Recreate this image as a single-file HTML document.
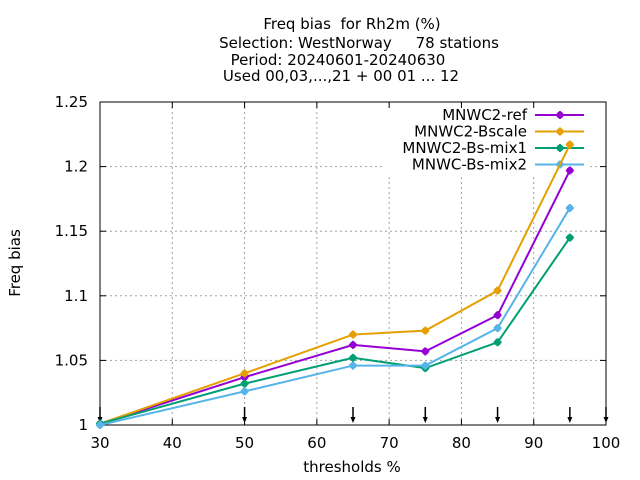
<!DOCTYPE html>
<html><head><meta charset="utf-8"><style>
body{margin:0;background:#fff;}
svg{display:block;font-family:"DejaVu Sans","Liberation Sans",sans-serif;}
text{white-space:pre;}
</style></head><body>
<svg id="c" width="640" height="480">
<g font-size="15" text-anchor="middle" fill="#000">
<text x="352" y="29" xml:space="preserve">Freq bias  for Rh2m (%)</text>
<text x="359" y="48" xml:space="preserve">Selection: WestNorway     78 stations</text>
<text x="338" y="65">Period: 20240601-20240630</text>
<text x="341" y="81">Used 00,03,...,21 + 00 01 ... 12</text>
</g>
<text x="20" y="263" font-size="15" text-anchor="middle" transform="rotate(-90 20 263)">Freq bias</text>
<text x="352" y="472" font-size="15" text-anchor="middle">thresholds %</text>
<g id="grid"></g><g id="legbg"></g><g id="axes"></g><g id="legend"></g><g id="series"></g>
</svg>
<script>
const xThresholds=[30,50,65,75,85,95];
const seriesNames=["MNWC2-ref","MNWC2-Bscale","MNWC2-Bs-mix1","MNWC-Bs-mix2"];
const refVals=[1.001,1.037,1.062,1.057,1.085,1.197];
const bscaleVals=[1.001,1.040,1.070,1.073,1.104,1.217];
const mix1Vals=[1.001,1.032,1.052,1.044,1.064,1.145];
const mix2Vals=[1.000,1.026,1.046,1.046,1.075,1.168];
const xTicks=[30,40,50,60,70,80,90,100];
const yTicks=[1,1.05,1.1,1.15,1.2,1.25];
const yTickLabels=["1","1.05","1.1","1.15","1.2","1.25"];
const colors=["#9400d3","#e69f00","#009e73","#56b4e9"];
const allVals=[refVals,bscaleVals,mix1Vals,mix2Vals];
const L=100,R=606,T=102,B=425;
const X=v=>L+(v-30)/70*(R-L);
const Y=v=>B-(v-1)/0.25*(B-T);
const NS="http://www.w3.org/2000/svg";
function mk(p,t,a){const e=document.createElementNS(NS,t);for(const k in a)e.setAttribute(k,a[k]);p.appendChild(e);return e;}
const grid=document.getElementById('grid'),axes=document.getElementById('axes'),ser=document.getElementById('series'),leg=document.getElementById('legend'),legbg=document.getElementById('legbg');
xTicks.forEach(v=>{
 if(v>30&&v<100){const g=mk(grid,'line',{x1:X(v),x2:X(v),y1:T,y2:B,stroke:'#a0a0a0','stroke-dasharray':'2,3','stroke-width':1});
 
 }
 mk(axes,'line',{x1:X(v),x2:X(v),y1:B,y2:B-6,stroke:'#000'});mk(axes,'line',{x1:X(v),x2:X(v),y1:T,y2:T+6,stroke:'#000'});
 const t=mk(axes,'text',{x:X(v),y:B+23,'font-size':15,'text-anchor':'middle'});t.textContent=v;
 
 
});
yTicks.forEach((v,i)=>{
 if(i>0&&i<yTicks.length-1){const g=mk(grid,'line',{x1:L,x2:R,y1:Y(v),y2:Y(v),stroke:'#a0a0a0','stroke-dasharray':'2,3','stroke-width':1});
 
 }
 mk(axes,'line',{x1:L,x2:L+6,y1:Y(v),y2:Y(v),stroke:'#000'});mk(axes,'line',{x1:R,x2:R-6,y1:Y(v),y2:Y(v),stroke:'#000'});
 const t=mk(axes,'text',{x:L-12,y:Y(v)+5,'font-size':15,'text-anchor':'end'});t.textContent=yTickLabels[i];
 
 
});
const fr=mk(axes,'rect',{x:L,y:T,width:R-L,height:B-T,fill:'none',stroke:'#000'});


xThresholds.concat([100]).forEach(v=>{
 const a=mk(axes,'g',{});
 
 
 mk(a,'line',{x1:X(v),x2:X(v),y1:B-18,y2:B-4,stroke:'#000','stroke-width':1.5});
 mk(a,'path',{d:`M${X(v)-2.5},${B-8} L${X(v)+2.5},${B-8} L${X(v)},${B-2} Z`,fill:'#000'});
});
const lb=mk(legbg,'rect',{x:382,y:104,width:206,height:70,fill:'#fff'});


function marker(p,x,y,c){mk(p,'circle',{cx:x,cy:y,r:3.5,fill:c});mk(p,'path',{d:`M${x-4},${y} h8 M${x},${y-4} v8`,stroke:c,'stroke-width':2});}
allVals.forEach((vals,s)=>{
 const g=mk(ser,'g',{});
 
 
 mk(g,'polyline',{points:vals.map((v,i)=>X(xThresholds[i])+','+Y(v)).join(' '),fill:'none',stroke:colors[s],'stroke-width':2});
 vals.forEach((v,i)=>marker(g,X(xThresholds[i]),Y(v),colors[s]));
 const ly=115+s*16.5;
 const e=mk(leg,'g',{});
 
 
 const t=mk(e,'text',{x:527,y:ly+5,'font-size':15,'text-anchor':'end'});t.textContent=seriesNames[s];
 mk(e,'line',{x1:535,x2:584,y1:ly,y2:ly,stroke:colors[s],'stroke-width':2});
 marker(e,560,ly,colors[s]);
});
</script>
</body></html>
